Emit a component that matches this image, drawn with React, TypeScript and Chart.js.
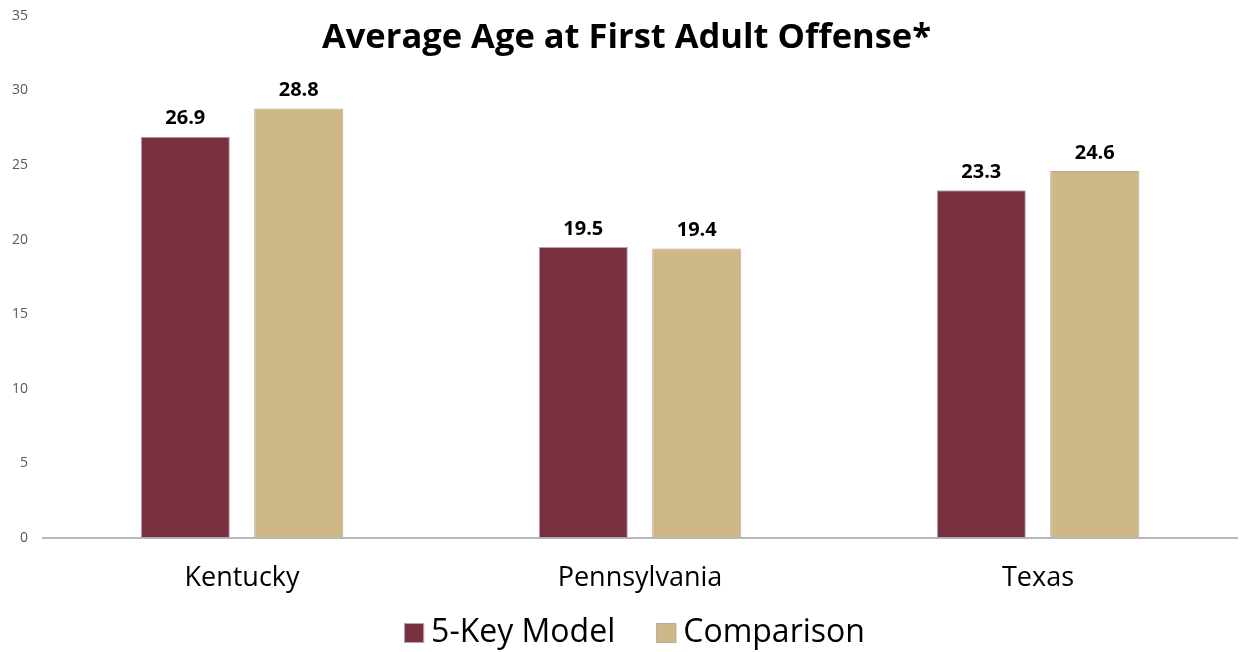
import React, { useEffect, useRef } from "react";
import { Chart, registerables } from "chart.js";

Chart.register(...registerables);

const title = "Average Age at First Adult Offense*";
const categories = ["Kentucky", "Pennsylvania", "Texas"];
const fiveKeyModel = [26.9, 19.5, 23.3];
const comparison = [28.8, 19.4, 24.6];
const seriesNames = ["5-Key Model", "Comparison"];
const seriesColors = ["#782F40", "#CEB888"];
const seriesBorders = ["#b5a5a8", "#b8ad96"];
const yMax = 35;
const yStep = 5;

const FONT = "'Open Sans', sans-serif";

const titlePlugin = {
  id: "customTitle",
  afterDraw(chart: any) {
    const ctx = chart.ctx;
    ctx.save();
    ctx.font = `bold 34.5px ${FONT}`;
    ctx.fillStyle = "#000";
    ctx.textAlign = "center";
    ctx.textBaseline = "middle";
    ctx.fillText(title, chart.width / 2 + 6, 38);
    ctx.restore();
  },
};

const legendPlugin = {
  id: "customLegend",
  afterDraw(chart: any) {
    const ctx = chart.ctx;
    ctx.save();
    ctx.font = `32px ${FONT}`;
    const box = 20;
    const gapText = 7;
    const gapItem = 41;
    const items = chart.data.datasets.map((d: any) => ({
      label: d.label,
      color: d.backgroundColor,
      border: d.borderColor,
      w: ctx.measureText(d.label).width,
    }));
    const total =
      items.reduce((s: number, it: any) => s + box + gapText + it.w, 0) +
      gapItem * (items.length - 1);
    let x = chart.width / 2 + 14 - total / 2;
    const cy = 633;
    ctx.textBaseline = "middle";
    ctx.textAlign = "left";
    items.forEach((it: any) => {
      ctx.fillStyle = it.color;
      ctx.fillRect(x, cy - box / 2, box, box);
      ctx.strokeStyle = it.border;
      ctx.lineWidth = 1;
      ctx.strokeRect(x + 0.5, cy - box / 2 + 0.5, box - 1, box - 1);
      x += box + gapText;
      ctx.fillStyle = "#000";
      ctx.fillText(it.label, x, cy);
      x += it.w + gapItem;
    });
    ctx.restore();
  },
};

const valueLabels = {
  id: "valueLabels",
  afterDatasetsDraw(chart: any) {
    const ctx = chart.ctx;
    ctx.save();
    ctx.font = `bold 20px ${FONT}`;
    ctx.fillStyle = "#000";
    ctx.textAlign = "center";
    ctx.textBaseline = "bottom";
    chart.data.datasets.forEach((ds: any, i: number) => {
      const meta = chart.getDatasetMeta(i);
      meta.data.forEach((bar: any, j: number) => {
        ctx.fillText(ds.data[j].toFixed(1), bar.x, bar.y - 8);
      });
    });
    ctx.restore();
  },
};

export default function App() {
  const ref = useRef<HTMLCanvasElement | null>(null);
  useEffect(() => {
    if (!ref.current) return;
    const chart = new Chart(ref.current, {
      type: "bar",
      data: {
        labels: categories,
        datasets: [
          {
            label: seriesNames[0],
            data: fiveKeyModel,
            backgroundColor: seriesColors[0],
            borderColor: seriesBorders[0],
            borderWidth: 1,
            categoryPercentage: 0.57,
            barPercentage: 0.785,
          },
          {
            label: seriesNames[1],
            data: comparison,
            backgroundColor: seriesColors[1],
            borderColor: seriesBorders[1],
            borderWidth: 1,
            categoryPercentage: 0.57,
            barPercentage: 0.785,
          },
        ],
      },
      options: {
        animation: false,
        responsive: true,
        maintainAspectRatio: false,
        layout: { padding: { top: 16, left: 12, right: 4, bottom: 32 } },
        plugins: {
          title: { display: false },
          tooltip: { enabled: false },
          legend: { display: false },
        },
        scales: {
          x: {
            grid: { display: false, drawTicks: false },
            border: { display: true, color: "#b8b8b8", width: 2 },
            ticks: {
              font: { family: FONT, size: 27 },
              color: "#000",
              padding: 25,
            },
          },
          y: {
            min: 0,
            max: yMax,
            grid: { display: false, drawTicks: false },
            border: { display: false },
            ticks: {
              stepSize: yStep,
              font: { family: FONT, size: 14 },
              color: "#595959",
              padding: 15,
            },
            afterFit: (scale: any) => {
              scale.width = 31;
              scale.paddingTop = 0;
              scale.paddingBottom = 0;
            },
          },
        },
      },
      plugins: [titlePlugin, valueLabels, legendPlugin],
    });
    return () => chart.destroy();
  }, []);
  return (
    <div style={{ position: "absolute", left: 0, top: 0, width: 1241, height: 652 }}>
      <canvas ref={ref} />
    </div>
  );
}
